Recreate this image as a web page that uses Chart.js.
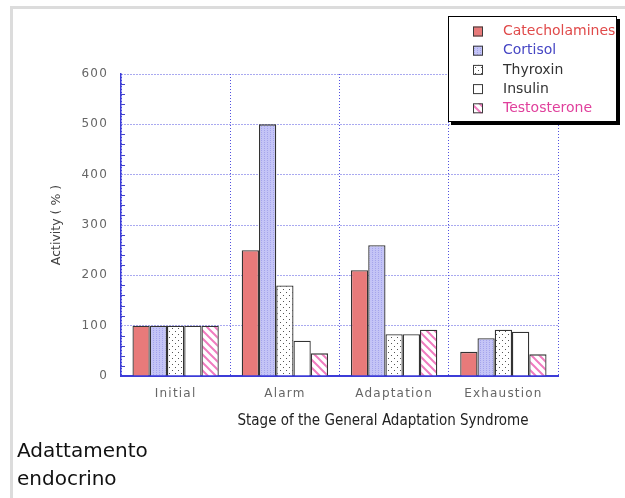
<!DOCTYPE html>
<html>
<head>
<meta charset="utf-8">
<script src="https://cdn.jsdelivr.net/npm/chart.js@4.4.0/dist/chart.umd.min.js"></script>
<style>
html, body { margin: 0; padding: 0; background: #fff; width: 625px; height: 498px; overflow: hidden; }
#frame { position: absolute; left: 10px; top: 6px; width: 640px; height: 520px; border-top: 3px solid #dcdcdc; border-left: 3px solid #dcdcdc; }
#wrap { position: absolute; left: 0; top: 0; width: 625px; height: 498px; }
#caption { position: absolute; left: 17px; top: 436px; font: 20px "DejaVu Sans"; line-height: 28px; color: #111; }
</style>
</head>
<body>
<div id="frame"></div>
<div id="wrap"><canvas id="chart"></canvas></div>
<div id="caption">Adattamento<br>endocrino</div>
<script>
// values
var stages = ['Initial', 'Alarm', 'Adaptation', 'Exhaustion'];
var catecholamines = [100, 250, 210, 48];
var cortisol = [100, 500, 260, 75];
var thyroxin = [100, 180, 83, 92];
var insulin = [100, 70, 83, 88];
var testosterone = [100, 45, 92, 43];
var series_names = ['Catecholamines', 'Cortisol', 'Thyroxin', 'Insulin', 'Testosterone'];
var legend_colors = ['#e04a4a', '#4646c4', '#333333', '#333333', '#e0409c'];
var y_max = 600;
var y_step = 100;
var y_minor = 20;
var x_title = 'Stage of the General Adaptation Syndrome';
var y_title = 'Activity ( % )';

function make_pattern(w, h, paint) {
    var c = document.createElement('canvas');
    c.width = w;
    c.height = h;
    var g = c.getContext('2d');
    paint(g, w, h);
    return g.createPattern(c, 'repeat');
}

var cortisol_fill = make_pattern(3, 2, function (g) {
    g.fillStyle = '#c4c4f6';
    g.fillRect(0, 0, 3, 2);
    g.fillStyle = '#a4a4ec';
    g.fillRect(0, 0, 1, 1);
});
var thyroxin_fill = make_pattern(6, 6, function (g) {
    g.fillStyle = '#ffffff';
    g.fillRect(0, 0, 6, 6);
    g.fillStyle = '#555555';
    g.fillRect(1, 1, 1, 1);
    g.fillRect(4, 4, 1, 1);
});
var testosterone_fill = make_pattern(8, 8, function (g) {
    g.fillStyle = '#ffffff';
    g.fillRect(0, 0, 8, 8);
    g.strokeStyle = '#f07cc0';
    g.lineWidth = 2;
    g.beginPath();
    g.moveTo(-1, -1); g.lineTo(9, 9);
    g.moveTo(-1, 7); g.lineTo(1, 9);
    g.moveTo(7, -1); g.lineTo(9, 1);
    g.stroke();
});

function bar_set(label, values, fill) {
    return {
        label: label,
        data: values,
        backgroundColor: fill,
        borderColor: '#333333',
        borderWidth: 1.3,
        barPercentage: 1.0,
        categoryPercentage: 0.79
    };
}

// minor ticks on the y axis, inward
var minor_ticks = {
    id: 'minor_ticks',
    afterDatasetsDraw: function (chart) {
        var ctx = chart.ctx;
        var y = chart.scales.y;
        ctx.save();
        ctx.strokeStyle = '#4444cc';
        ctx.lineWidth = 1;
        ctx.beginPath();
        for (var v = y_minor; v < y_max; v += y_minor) {
            if (v % y_step === 0) continue;
            var py = Math.round(y.getPixelForValue(v)) + 0.5;
            ctx.moveTo(y.right, py);
            ctx.lineTo(y.right + 4, py);
        }
        ctx.stroke();
        ctx.restore();
        // wide lettering for the tick labels drawn next
        ctx.letterSpacing = '1.2px';
    }
};

var box_legend = {
    id: 'box_legend',
    afterDraw: function (chart) {
        var ctx = chart.ctx;
        ctx.letterSpacing = '0px';
        ctx.save();
        // x axis title
        ctx.font = '15px "DejaVu Sans Condensed", "DejaVu Sans"';
        ctx.fillStyle = '#222';
        ctx.textAlign = 'center';
        ctx.textBaseline = 'middle';
        ctx.fillText(x_title, 383, 421);

        // legend box with shadow
        ctx.fillStyle = '#000';
        ctx.fillRect(451, 19, 169, 106);
        ctx.fillStyle = '#fff';
        ctx.fillRect(448, 16, 169, 106);
        ctx.strokeStyle = '#000';
        ctx.lineWidth = 1;
        ctx.strokeRect(448.5, 16.5, 168, 105);

        ctx.font = '14px "DejaVu Sans"';
        ctx.textAlign = 'left';
        chart.data.datasets.forEach(function (ds, i) {
            var cy = 31.5 + i * 19.2;
            ctx.fillStyle = ds.backgroundColor;
            ctx.fillRect(473, cy - 5, 10, 10);
            ctx.strokeStyle = '#3a3a3a';
            ctx.strokeRect(473.5, cy - 4.5, 9, 9);
            ctx.fillStyle = legend_colors[i];
            ctx.fillText(ds.label, 503, cy);
        });
        ctx.restore();
    }
};

var ctx = document.getElementById('chart').getContext('2d');
var chart = new Chart(ctx, {
    type: 'bar',
    data: {
        labels: stages,
        datasets: [
            bar_set(series_names[0], catecholamines, '#e87a7a'),
            bar_set(series_names[1], cortisol, cortisol_fill),
            bar_set(series_names[2], thyroxin, thyroxin_fill),
            bar_set(series_names[3], insulin, '#ffffff'),
            bar_set(series_names[4], testosterone, testosterone_fill)
        ]
    },
    options: {
        responsive: true,
        maintainAspectRatio: false,
        animation: false,
        layout: { padding: { left: 45, top: 74, right: 67, bottom: 96 } },
        plugins: {
            legend: { display: false },
            tooltip: { enabled: false }
        },
        scales: {
            x: {
                afterFit: function (scale) { scale.height = 26; },
                grid: { offset: true, color: '#5252e0', lineWidth: 1, drawTicks: false },
                border: { color: '#3c3cd8', width: 2, dash: [1, 2] },
                ticks: { z: 1, padding: 11, color: '#666', font: { family: 'DejaVu Sans', size: 12 } }
            },
            y: {
                min: 0,
                max: y_max,
                afterFit: function (scale) { scale.width = 76; },
                grid: { color: '#5252e0', lineWidth: 1, drawTicks: false },
                border: { color: '#3c3cd8', width: 1.5, dash: [1, 2] },
                ticks: { z: 1, stepSize: y_step, padding: 13, color: '#666', font: { family: 'DejaVu Sans', size: 12 } },
                title: { display: true, text: y_title, color: '#444', padding: { top: 4, bottom: 4 }, font: { family: 'DejaVu Sans', size: 12.5 } }
            }
        }
    },
    plugins: [minor_ticks, box_legend]
});
</script>
</body>
</html>
